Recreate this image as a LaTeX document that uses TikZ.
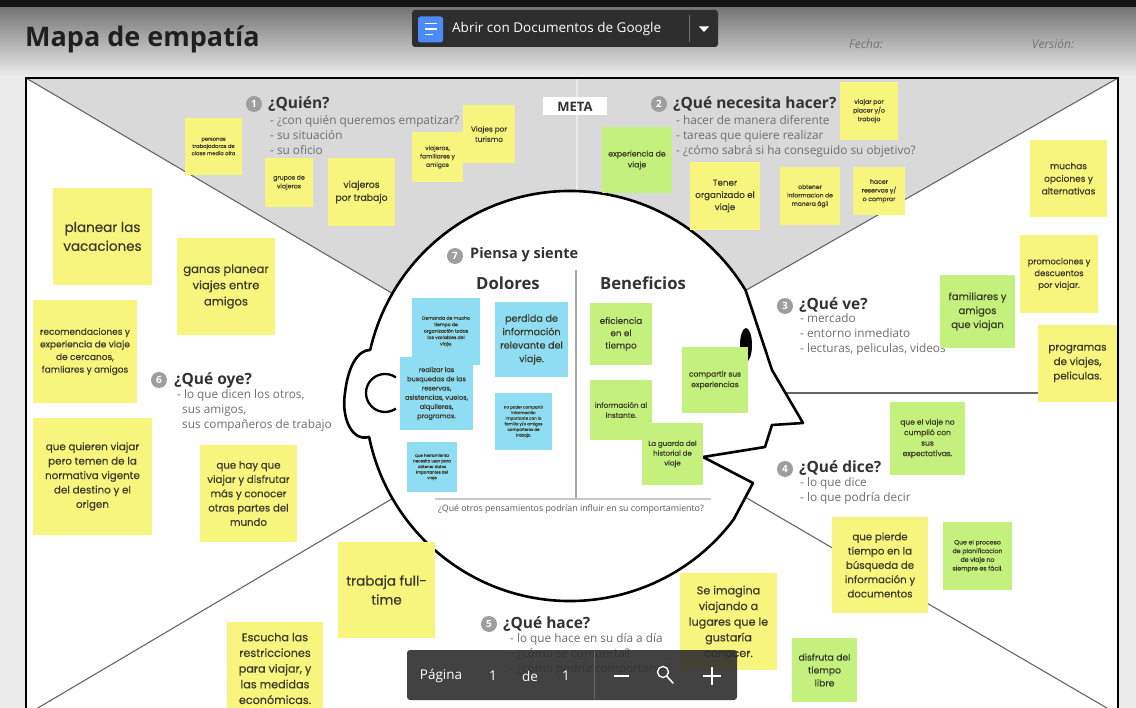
\documentclass[tikz,border=0pt]{standalone}
\usepackage{fontspec}
\usepackage{xfp}
\usetikzlibrary{calc}
\setmainfont{Open Sans}
\newfontfamily\notefont[FakeBold=0.4]{Poppins}
% note font: size with a proportional line spacing
\newcommand\nf[1]{\notefont\fontsize{#1}{\fpeval{1.4*#1}pt}\selectfont}

\definecolor{stickyY}{HTML}{F7F57E}
\definecolor{stickyG}{HTML}{C4F07D}
\definecolor{stickyB}{HTML}{8EDDF3}
\definecolor{notetext}{HTML}{3A3A2A}
\definecolor{zoneGray}{HTML}{D9D9D9}
\definecolor{marginGray}{HTML}{EAEAEA}
\definecolor{headerTop}{HTML}{747474}
\definecolor{headerBottom}{HTML}{EFEFEF}
\definecolor{topStrip}{HTML}{141414}
\definecolor{ruleGray}{HTML}{666666}
\definecolor{headingText}{HTML}{333333}
\definecolor{bulletText}{HTML}{6E6E6E}
\definecolor{badgeGray}{HTML}{9E9E9E}
\definecolor{barDark}{HTML}{2E2E2E}
\definecolor{docBlue}{HTML}{4C8BF5}

\begin{document}
\begin{tikzpicture}[x=1pt,y=-1pt,
  ynote/.style={fill=stickyY, text=notetext, align=center, inner sep=1pt},
  gnote/.style={fill=stickyG, text=notetext, align=center, inner sep=1pt},
  bnote/.style={fill=stickyB, text=notetext, align=center, inner sep=1pt},
  sz/.style 2 args={minimum width=#1pt, minimum height=#2pt},
  divider/.style={draw=ruleGray, line width=1.1pt},
  headline/.style={draw=black, line width=2.6pt, fill=white, line join=round},
  numbadge/.style={circle, fill=badgeGray, text=white, minimum size=16pt, inner sep=0pt,
    font=\fontsize{10}{10}\selectfont\bfseries},
  qtitle/.style={anchor=west, text=headingText, inner sep=0pt,
    font=\fontsize{15.5}{18}\selectfont\bfseries},
  qlist/.style={anchor=north west, align=left, text=bulletText, inner sep=0pt,
    font=\fontsize{11.8}{14.8}\selectfont},
  uitext/.style={text=white, inner sep=0pt, font=\fontsize{13.5}{16}\selectfont},
]
\useasboundingbox (0,0) rectangle (1136,708);

% page background and header band
\fill[marginGray] (0,0) rectangle (1136,708);
\shade[top color=headerTop, bottom color=headerBottom] (0,7) rectangle (1136,78);
\fill[topStrip] (0,0) rectangle (1136,7);

\node[anchor=base west, inner sep=0pt, text=black!88, font=\fontsize{27}{32}\selectfont\bfseries]
  (mapTitle) at (25,47) {Mapa de empatía};
\node[text=black!55, font=\fontsize{12}{14}\selectfont\itshape] (fecha) at (866,44) {Fecha:};
\node[text=black!55, font=\fontsize{12}{14}\selectfont\itshape] (version) at (1053,44) {Versión:};

% board and its zones
\coordinate (bTL) at (26,78);
\coordinate (bTR) at (1118,78);
\coordinate (bBR) at (1118,720);
\coordinate (bBL) at (26,720);
\coordinate (ulEnd) at (392.5,293.5);
\coordinate (urEnd) at (745.7,290.4);
\coordinate (llStart) at (26,715);
\coordinate (llEnd) at (392.5,498.5);
\coordinate (lrStart) at (745,497);
\coordinate (lrEnd) at (1112,711);
\coordinate (hStart) at (785,393);
\coordinate (hEnd) at (1118,393);
\coordinate (vTop) at (577,78);
\coordinate (vBot) at (577,192);

\fill[white] (bTL) rectangle (bBR);
\fill[zoneGray] (bTL) -- (bTR) -- (urEnd) -- (ulEnd) -- cycle;
\draw[divider] (bTL) -- (ulEnd);
\draw[divider] (bTR) -- (urEnd);
\draw[divider] (llStart) -- (llEnd);
\draw[divider] (lrStart) -- (lrEnd);
\draw[divider] (hStart) -- (hEnd);
\draw[line width=1.5pt, white!92!black] (vTop) -- (vBot);

% head profile
\coordinate (earTop) at (370.2,349.9);
\draw[headline] (earTop) arc[start angle=-167, end angle=-31, radius=205]
  -- (772,370) -- (803,423) -- (772,425) -- (765,447) -- (703,457) -- (753,483)
  -- (733.7,519.4) arc[start angle=37, end angle=168.5, radius=205]
  .. controls (352,442) and (341,418) .. (345,393)
  .. controls (348,366) and (358,350) .. (earTop) -- cycle;
\draw[line width=2.3pt] (395.9,377.4) arc[start angle=-55, end angle=-305, radius=19];
\fill[black] (746,345) ellipse[x radius=6, y radius=17];

\draw[line width=2.4pt, black] (bBL) -- (bTL) -- (bTR) -- (bBR);

% thinking area inside the head
\coordinate (sepTop) at (576,270);
\coordinate (sepBot) at (576,498);
\coordinate (baseL) at (435,499);
\coordinate (baseR) at (711,499);
\draw[line width=1.2pt, black!35] (sepTop) -- (sepBot);
\draw[line width=1.5pt, black!22] (baseL) -- (baseR);
\node[numbadge] (b7) at (455,256) {7};
\node[anchor=west, inner sep=0pt, text=headingText, font=\fontsize{14.5}{17}\selectfont\bfseries]
  (piensa) at (470,255) {Piensa y siente};
\node[text=headingText, inner sep=0pt, font=\fontsize{16.7}{20}\selectfont\bfseries] (dolores) at (508,283) {Dolores};
\node[text=headingText, inner sep=0pt, font=\fontsize{16.7}{20}\selectfont\bfseries] (beneficios) at (643,283) {Beneficios};
\node[text=black!65, inner sep=0pt, font=\fontsize{8.8}{10}\selectfont] (otros) at (571,509)
  {¿Qué otros pensamientos podrían influir en su comportamiento?};

% section headings
\node[numbadge] (b1) at (254,104) {1};
\node[qtitle] (quien) at (268,104) {¿Quién?};
\node[qlist] (quienList) at (270,115.5) {- ¿con quién queremos empatizar?\\- su situación\\- su oficio};

\node[fill=white, minimum width=64pt, minimum height=18pt, inner sep=0pt, text=headingText,
  font=\fontsize{13}{15}\selectfont\bfseries] (meta) at (575,106.5) {META};

\node[numbadge] (b2) at (659,104) {2};
\node[qtitle] (necesita) at (673,104) {¿Qué necesita hacer?};
\node[qlist] (necesitaList) at (676,115.5) {- hacer de manera diferente\\- tareas que quiere realizar\\- ¿cómo sabrá si ha conseguido su objetivo?};

\node[numbadge] (b3) at (785,306) {3};
\node[qtitle] (ve) at (799,305) {¿Qué ve?};
\node[qlist] (veList) at (800,313.5) {- mercado\\- entorno inmediato\\- lecturas, peliculas, videos};

\node[numbadge] (b4) at (785,469) {4};
\node[qtitle] (dice) at (799,468) {¿Qué dice?};
\node[qlist] (diceList) at (800,477.5) {- lo que dice\\- lo que podría decir};

\node[numbadge] (b6) at (159,380) {6};
\node[qtitle] (oye) at (174,380) {¿Qué oye?};
\node[qlist] (oyeList) at (177,389.5) {- lo que dicen los otros,\\\hspace*{5pt}sus amigos,\\\hspace*{5pt}sus compañeros de trabajo};

\node[numbadge] (b5) at (489,624) {5};
\node[qtitle] (hace) at (503,624) {¿Qué hace?};
\node[qlist] (haceList) at (510,633.5) {- lo que hace en su día a día\\- ¿cómo se comporta?\\- ¿cómo podría comportarse?};

% notes: who
\node[ynote, sz={57}{57}, font=\nf{5.2}] (qPersonas) at (213.5,146.5) {personas\\trabajadoras de\\clase media alta};
\node[ynote, sz={48}{49}, font=\nf{6.2}] (qGrupos) at (289,182.5) {grupos de\\viajeros};
\node[ynote, sz={67}{68}, font=\nf{9.3}] (qTrabajo) at (361.5,192) {viajeros\\por trabajo};
\node[ynote, sz={51}{50}, font=\nf{6}] (qFamilia) at (437.5,157) {viajeros,\\familiares y\\amigos};
\node[ynote, sz={52}{58}, font=\nf{7.3}] (qTurismo) at (489,134) {Viajes por\\turismo};

% notes: what they need to do
\node[gnote, sz={70}{66}, font=\nf{7.8}] (nExperiencia) at (637,160) {experiencia de\\viaje};
\node[ynote, sz={70}{68}, font=\nf{8.7}] (nOrganizado) at (725,196) {Tener\\organizado el\\viaje};
\node[ynote, sz={60}{58}, font=\nf{6}] (nAgil) at (810,196) {obtener\\informacion de\\manera ágil};
\node[ynote, sz={52}{48}, font=\nf{6.2}] (nReservas) at (879,191) {hacer\\reservas y/\\o comprar};
\node[ynote, sz={58}{58}, font=\nf{6.2}] (nPlacer) at (869,111) {viajar por\\placer y/o\\trabajo};

% notes: what they see
\node[ynote, sz={77}{77}, font=\nf{9}] (vOpciones) at (1068.5,178.5) {muchas\\opciones y\\alternativas};
\node[ynote, sz={78}{78}, font=\nf{8.4}] (vPromos) at (1059,274) {promociones y\\descuentos\\por viajar.};
\node[gnote, sz={75}{73}, font=\nf{10}] (vFamilia) at (977.5,311.5) {familiares y\\amigos\\que viajan};
\node[ynote, sz={79}{77}, font=\nf{10.3}] (vProgramas) at (1077.5,363.5) {programas\\de viajes,\\peliculas.};

% notes: what they say
\node[gnote, sz={75}{73}, font=\nf{7.5}] (dExpect) at (927.5,438.5) {que el viaje no\\cumplió con\\sus\\expectativas.};
\node[ynote, sz={96}{96}, font=\nf{10.2}] (dPierde) at (880,565) {que pierde\\tiempo en la\\búsqueda de\\información y\\documentos};
\node[gnote, sz={69}{68}, font=\nf{6.2}] (dProceso) at (977.5,556) {Que el proceso\\de planificacion\\de viaje no\\siempre es fácil.};

% notes: what they hear
\node[ynote, sz={99}{97}, font=\nf{13.5}] (oPlanear) at (102.5,236.5) {planear las\\vacaciones};
\node[ynote, sz={98}{97}, font=\nf{11.6}] (oGanas) at (226,286.5) {ganas planear\\viajes entre\\amigos};
\node[ynote, sz={104}{103}, font=\nf{9}] (oRecom) at (85,351.5) {recomendaciones y\\experiencia de viaje\\de cercanos,\\famliares y amigos};
\node[ynote, sz={119}{117}, font=\nf{10.3}] (oTemen) at (92.5,476.5) {que quieren viajar\\pero temen de la\\normativa vigente\\del destino y el\\origen};
\node[ynote, sz={97}{97}, font=\nf{10.2}] (oConocer) at (248.5,493.5) {que hay que\\viajar y disfrutar\\más y conocer\\otras partes del\\mundo};

% notes: what they do
\node[ynote, sz={97}{96}, font=\nf{13.5}] (hFull) at (386.5,590) {trabaja full-\\time};
\node[ynote, sz={96}{93}, font=\nf{11.2}] (hEscucha) at (275,668.5) {Escucha las\\restricciones\\para viajar, y\\las medidas\\económicas.};
\node[ynote, sz={97}{97}, font=\nf{11.2}] (hImagina) at (728.5,621.5) {Se imagina\\viajando a\\lugares que le\\gustaría\\conocer.};
\node[gnote, sz={65}{64}, font=\nf{9.2}] (hLibre) at (824.5,670) {disfruta del\\tiempo\\libre};

% notes: pains
\node[bnote, sz={68}{67}, font=\nf{4.6}] (pDemanda) at (446,331.5) {Demanda de mucho\\tiempo de\\organización todas\\las variables del\\viaje.};
\node[bnote, sz={73}{73}, font=\nf{6.6}] (pBusquedas) at (436.5,393.5) {realizar las\\busquedas de las\\reservas,\\asistencias, vuelos,\\alquileres,\\programas.};
\node[bnote, sz={73}{75}, font=\nf{9.6}] (pPerdida) at (531.5,339.5) {perdida de\\información\\relevante del\\viaje.};
\node[bnote, sz={57}{57}, font=\nf{4}] (pCompartir) at (523.5,421.5) {no poder compartir\\información\\importante con la\\familia y/o amigos\\compañeros de\\trabajo.};
\node[bnote, sz={50}{50}, font=\nf{4}] (pHerramienta) at (432,467) {que herramienta\\necesita usar para\\obtener datos\\importantes del\\viaje};

% notes: gains
\node[gnote, sz={62}{62}, font=\nf{8.8}] (gEficiencia) at (621,334) {eficiencia\\en el\\tiempo};
\node[gnote, sz={62}{60}, font=\nf{7.2}] (gInstante) at (621,410) {información al\\instante.};
\node[gnote, sz={66}{66}, font=\nf{7.5}] (gCompartir) at (715,380) {compartir sus\\experiencias};
\node[gnote, sz={61}{62}, font=\nf{7}] (gHistorial) at (672.5,454) {La guarda del\\historial de\\viaje};

% viewer controls
\node[fill=barDark, rounded corners=3pt, minimum width=306pt, minimum height=37pt] (docsBtn) at (565,28.5) {};
\node[fill=docBlue, rounded corners=2.5pt, minimum width=25pt, minimum height=26pt, inner sep=0pt] (docsIcon) at (430.5,29.5) {};
\draw[white, line width=1.8pt] (424.5,23.5) -- (436.5,23.5) (424.5,29) -- (436.5,29) (424.5,34.5) -- (432.5,34.5);
\node[anchor=west, uitext] (docsLabel) at (452,29) {Abrir con Documentos de Google};
\coordinate (btnSepT) at (689,15);
\coordinate (btnSepB) at (689,42);
\draw[black!55, line width=1pt] (btnSepT) -- (btnSepB);
\fill[white] (699,26.5) -- (709,26.5) -- (704,32) -- cycle;

\node[fill=barDark, fill opacity=0.9, rounded corners=3pt, minimum width=330pt, minimum height=50pt] (pager) at (572,675) {};
\node[uitext] (pgLabel) at (441,676) {Página};
\node[uitext] (pgNum) at (493,676) {1};
\node[uitext] (pgOf) at (530,676) {de};
\node[uitext] (pgTotal) at (566,676) {1};
\coordinate (pgSepT) at (594,651);
\coordinate (pgSepB) at (594,699);
\draw[black!60, line width=1pt] (pgSepT) -- (pgSepB);
\draw[white, line width=1.6pt] (614,676) -- (629,676);
\draw[white, line width=1.4pt] (663,672) circle[radius=5.5];
\draw[white, line width=1.6pt, line cap=round] (667,676.5) -- (673,683);
\draw[white, line width=1.6pt] (703,676) -- (721,676) (712,667) -- (712,685);
\end{tikzpicture}
\end{document}
